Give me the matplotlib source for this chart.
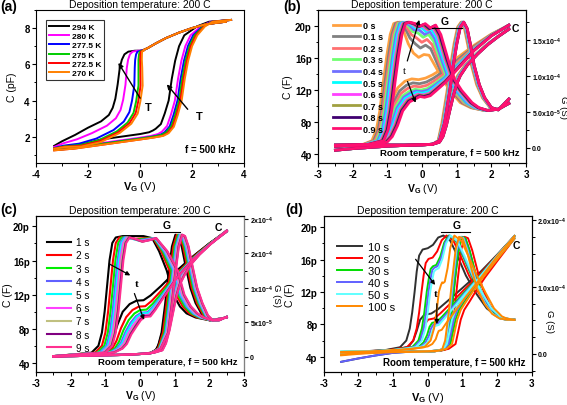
import numpy as np
import matplotlib
matplotlib.use('Agg')
import matplotlib.pyplot as plt
from matplotlib.ticker import AutoMinorLocator

plt.rcParams['font.family'] = ['Liberation Sans', 'DejaVu Sans']
plt.rcParams['font.weight'] = 'bold'
plt.rcParams['mathtext.fontset'] = 'custom'
plt.rcParams['mathtext.rm'] = 'Liberation Sans:bold'
plt.rcParams['mathtext.bf'] = 'Liberation Sans:bold'
plt.rcParams['mathtext.it'] = 'Liberation Sans:bold'
plt.rcParams['axes.unicode_minus'] = False

# ---------------- (a) C-V vs temperature ----------------
a_labels = ['294 K', '280 K', '277.5 K', '275 K', '272.5 K', '270 K']
a_colors = ['#000000', '#ff00ff', '#0000ff', '#00cc00', '#ff0000', '#ff8000']
# forward sweep (base = 270 K)
a_fwd_x = [-3.3, -2.5, -2.0, -1.5, -1.0, -0.5, 0.0, 0.5, 0.9, 1.1, 1.3, 1.45, 1.6, 1.72, 1.85, 2.0, 2.2, 2.5, 2.8, 3.5]
a_fwd_y = [1.25, 1.35, 1.45, 1.55, 1.65, 1.75, 1.85, 1.95, 2.05, 2.2, 2.55, 3.2, 4.0, 5.2, 6.2, 7.0, 7.6, 8.1, 8.35, 8.45]
a_fwd_move = [0, 0, 0, 0, 0, 0, 0, 0.3, 0.8, 1, 1, 1, 1, 1, 1, 1, 1, 0.6, 0.3, 0]
a_fwd_lmask = [0.3, 0.5, 0.7, 1, 1, 1, 1, 1, 1, 0.8, 0.5, 0.3, 0, 0, 0, 0, 0, 0, 0, 0]
a_fwd_shift = [-0.5, -0.26, -0.16, -0.1, -0.05, 0.0]
a_fwd_lift = [0.3, 0.1, 0.05, 0.05, 0.0, 0.0]
# reverse sweep (base = 294 K)
a_rev_x = [3.3, 3.0, 2.5, 2.0, 1.5, 1.0, 0.6, 0.3, 0.15, 0.0, -0.2, -0.45, -0.6, -0.7, -0.78, -0.86, -0.95, -1.05, -1.2, -1.5, -2.0, -2.5, -3.0, -3.3]
a_rev_y = [8.35, 8.3, 8.2, 8.0, 7.75, 7.45, 7.15, 6.9, 6.8, 6.75, 6.75, 6.7, 6.55, 6.25, 5.8, 4.9, 4.1, 3.6, 3.2, 2.85, 2.5, 2.1, 1.75, 1.5]
a_rev_move = [0, 0, 0, 0, 0, 0, 0, 0, 0, 0.15, 0.35, 0.55, 0.7, 0.8, 0.9, 1, 1, 1, 0.9, 0.75, 0.5, 0.25, 0.1, 0]
a_rev_lmask = [0, 0, 0, 0, 0, 0, 0, 0, 0, 0, 0, 0, 0, 0, 0, 0.1, 0.2, 0.4, 0.6, 0.8, 1, 0.8, 0.4, 0.2]
a_rev_shift = [0.0, 0.3, 0.64, 0.8, 0.88, 0.96]
a_rev_lift = [0.0, -0.3, -0.6, -0.7, -0.75, -0.8]

# ---------------- (b) 0 - 0.9 s ----------------
b_labels = ['0 s', '0.1 s', '0.2 s', '0.3 s', '0.4 s', '0.5 s', '0.6 s', '0.7 s', '0.8 s', '0.9 s']
b_colors = ['#ffa040', '#808080', '#ff7070', '#70ff70', '#7070ff', '#00ffff', '#ff40ff', '#a0a040', '#400070', '#ff1070']
b_shift = [0, 0.05, 0.09, 0.13, 0.17, 0.21, 0.25, 0.28, 0.31, 0.34]
b_fwd_shift = [-0.08, -0.06, -0.05, -0.04, -0.03, -0.02, -0.01, 0.0, 0.0, 0.0]
# C forward (pF)
b_cf_x = [-2.5, -2.0, -1.5, -1.0, -0.5, 0.0, 0.3, 0.5, 0.6, 0.7, 0.8, 0.9, 1.0, 1.1, 1.3, 1.6, 1.9, 2.2, 2.5]
b_cf_y = [4.5, 4.7, 4.85, 5.0, 5.1, 5.15, 5.25, 5.5, 6.2, 7.6, 9.5, 11.3, 12.8, 13.8, 15.1, 16.5, 17.7, 18.7, 19.6]
b_cf_move = [0, 0, 0, 0, 0, 0, 0.3, 0.7, 1, 1, 1, 1, 1, 1, 0.8, 0.6, 0.4, 0.2, 0]
# C reverse (pF)
b_cr_x = [2.5, 2.0, 1.5, 1.0, 0.6, 0.3, 0.1, -0.1, -0.3, -0.5, -0.7, -0.9, -1.05, -1.2, -1.35, -1.6, -2.0, -2.5]
b_cr_y = [20.1, 19.0, 17.6, 16.0, 14.7, 13.9, 13.5, 13.3, 13.4, 13.1, 12.3, 10.5, 8.0, 6.2, 5.5, 5.2, 5.1, 5.0]
b_cr_move = [0, 0, 0, 0.1, 0.2, 0.3, 0.4, 0.5, 0.7, 0.9, 1, 1, 1, 1, 1, 0.6, 0.2, 0]
b_cr_lmask = [0, 0.1, 0.3, 0.6, 0.8, 0.9, 1, 1, 1, 1, 0.8, 0.5, 0.2, 0, 0, 0, 0, 0]
b_cr_lift = [0, -0.5, -0.9, -1.3, -1.5, -1.7, -1.9, -2.0, -2.1, -2.2]
# G forward (1e-4 S)
b_gf_x = [-2.5, -1.5, -0.5, 0.3, 0.5, 0.65, 0.8, 0.9, 1.0, 1.1, 1.2, 1.3, 1.4, 1.5, 1.65, 1.8, 2.0, 2.2, 2.5]
b_gf_y = [0.03, 0.04, 0.04, 0.05, 0.1, 0.35, 0.8, 1.15, 1.45, 1.68, 1.75, 1.66, 1.42, 1.15, 0.88, 0.7, 0.56, 0.53, 0.68]
b_gf_move = [0, 0, 0, 0, 0.5, 1, 1, 1, 1, 1, 1, 1, 1, 1, 1, 0.8, 0.5, 0.2, 0]
# G reverse (1e-4 S)
b_gr_x = [2.5, 2.2, 1.8, 1.4, 1.1, 0.8, 0.6, 0.4, 0.2, 0.05, -0.1, -0.25, -0.4, -0.55, -0.7, -0.82, -0.92, -1.02, -1.12, -1.22, -1.32, -1.45, -1.7, -2.5]
b_gr_y = [0.62, 0.54, 0.52, 0.56, 0.63, 0.8, 0.95, 1.12, 1.29, 1.3, 1.26, 1.32, 1.45, 1.65, 1.75, 1.73, 1.58, 1.28, 0.92, 0.52, 0.25, 0.1, 0.05, 0.04]
b_gr_move = [0, 0, 0.3, 0.7, 1, 1, 1, 1, 1, 1, 1, 1, 1, 1, 1, 1, 1, 1, 1, 1, 1, 1, 0.5, 0]
b_gr_lmask = [0, 0, 0, 0, 0, 0, 0, 0.3, 0.7, 1, 1, 1, 0.6, 0.2, 0, 0, 0, 0, 0, 0, 0, 0, 0, 0]
b_gr_lift = [0, 0.13, 0.21, 0.28, 0.32, 0.36, 0.38, 0.39, 0.40, 0.41]

# ---------------- (c) 1 - 9 s ----------------
c_labels = ['1 s', '2 s', '3 s', '4 s', '5 s', '6 s', '7 s', '8 s', '9 s']
c_colors = ['#000000', '#ff0000', '#00ee00', '#6060ff', '#00ffff', '#ff40ff', '#c0c080', '#800080', '#ff3090']
c_shift = [0, 0.1, 0.17, 0.23, 0.27, 0.31, 0.35, 0.38, 0.4]
c_fwd_shift = [0, 0.04, 0.08, 0.11, 0.13, 0.15, 0.17, 0.19, 0.2]
c_cf_x = [-2.5, -1.5, -0.5, 0.0, 0.3, 0.45, 0.55, 0.65, 0.75, 0.85, 0.95, 1.1, 1.3, 1.6, 2.0, 2.5]
c_cf_y = [4.75, 4.85, 4.95, 5.05, 5.2, 5.5, 6.3, 7.8, 9.8, 11.8, 13.2, 14.4, 15.5, 16.7, 18.0, 19.4]
c_cf_move = [0, 0, 0, 0, 0.5, 1, 1, 1, 1, 1, 1, 1, 0.8, 0.6, 0.3, 0]
c_cr_x = [2.5, 2.0, 1.5, 1.0, 0.6, 0.3, 0.1, -0.1, -0.3, -0.5, -0.65, -0.78, -0.9, -1.05, -1.3, -1.8, -2.5]
c_cr_y = [19.5, 18.0, 16.4, 14.6, 13.0, 11.9, 11.35, 11.3, 10.9, 10.0, 8.5, 6.8, 5.7, 5.25, 5.05, 4.9, 4.75]
c_cr_move = [0, 0, 0, 0.1, 0.2, 0.35, 0.5, 0.6, 0.8, 1, 1, 1, 1, 0.8, 0.5, 0.2, 0]
c_cr_lmask = [0, 0.1, 0.2, 0.4, 0.7, 0.9, 1, 1, 1, 0.9, 0.6, 0.3, 0, 0, 0, 0, 0]
c_cr_lift = [0, -0.7, -1.1, -1.4, -1.5, -1.7, -1.8, -1.8, -1.9]
c_gf_x = [-2.5, -1.5, -0.5, 0.3, 0.5, 0.62, 0.72, 0.82, 0.92, 1.02, 1.1, 1.2, 1.3, 1.45, 1.6, 1.8, 2.0, 2.25, 2.5]
c_gf_y = [0.01, 0.02, 0.03, 0.05, 0.12, 0.35, 0.75, 1.2, 1.6, 1.77, 1.75, 1.6, 1.35, 1.0, 0.78, 0.6, 0.53, 0.53, 0.58]
c_gf_move = [0, 0, 0, 0, 0.5, 1, 1, 1, 1, 1, 1, 1, 1, 1, 1, 0.8, 0.5, 0.2, 0]
c_gr_x = [2.5, 2.0, 1.6, 1.34, 1.15, 0.96, 0.77, 0.55, 0.35, 0.1, -0.2, -0.5, -0.7, -0.8, -0.88, -0.95, -1.02, -1.1, -1.2, -1.4, -1.8, -2.5]
c_gr_y = [0.57, 0.53, 0.57, 0.63, 0.73, 0.9, 1.25, 1.53, 1.72, 1.75, 1.75, 1.75, 1.73, 1.65, 1.4, 1.03, 0.66, 0.35, 0.16, 0.06, 0.04, 0.01]
c_gr_move = [0, 0.2, 0.6, 0.8, 0.8, 0.8, 0.8, 0.6, 0.3, 0.5, 0.7, 0.9, 1, 1, 1, 1, 1, 1, 1, 1, 0.4, 0]
c_gr_lmask = [0, 0, 0, 0, 0, 0, 0, 0, 0, 0.7, 1, 0.5, 0, 0, 0, 0, 0, 0, 0, 0, 0, 0]
c_gr_lift = [0, -0.04, -0.05, -0.06, -0.07, -0.07, -0.08, -0.08, -0.08]

# ---------------- (d) 10 - 100 s ----------------
d_labels = ['10 s', '20 s', '30 s', '40 s', '50 s', '100 s']
d_colors = ['#303030', '#ff0000', '#00dd00', '#6060ff', '#60ffff', '#ff8800']
d_shift = [0, 0.2, 0.35, 0.4, 0.45, 0.7]
d_c_shift = [0, 0.15, 0.3, 0.35, 0.4, 0.55]
d_fwd_shift = [0, 0.08, 0.0, -0.04, -0.06, -0.08]
d_cf_shift = [0, 0.25, 0.1, 0.05, 0.0, 0.15]
d_cf_x = [-2.5, -2.0, -1.5, -1.0, -0.5, 0.0, 0.3, 0.45, 0.55, 0.62, 0.7, 0.8, 0.95, 1.2, 1.5, 1.9, 2.2, 2.5]
d_cf_y = [4.3, 4.45, 4.55, 4.6, 4.65, 4.7, 4.8, 5.0, 5.6, 7.0, 8.6, 9.8, 10.8, 12.2, 13.8, 15.8, 17.2, 18.6]
d_cf_move = [0, 0, 0, 0, 0, 0, 0.3, 0.6, 1, 1, 1, 1, 1, 0.8, 0.6, 0.4, 0.2, 0]
d_cf_lmask = [1, 0.7, 0.4, 0.1, 0, 0, 0, 0, 0, 0, 0, 0, 0, 0, 0, 0, 0, 0]
d_cf_lift = [-0.9, 0, 0.1, -0.9, 0.4, -0.1]
d_cr_x = [2.5, 2.0, 1.5, 1.0, 0.6, 0.3, 0.1, -0.1, -0.22, -0.32, -0.42, -0.55, -0.8, -1.2, -1.8, -2.5]
d_cr_y = [18.9, 16.6, 14.4, 12.5, 11.0, 9.9, 9.35, 9.2, 8.6, 7.2, 6.0, 5.3, 5.0, 4.85, 4.6, 4.3]
d_cr_move = [0, 0, 0.1, 0.2, 0.3, 0.4, 0.55, 0.75, 0.9, 1, 1, 1, 0.7, 0.4, 0.15, 0]
d_cr_lmask = [0, 0.1, 0.25, 0.5, 0.75, 0.9, 1, 1, 0.9, 0.5, 0.2, 0, 0, 0, 0, 0]
d_cr_lift = [0, -0.6, -1.0, -1.2, -1.4, -2.0]
d_gf_x = [-2.5, -1.5, -0.5, 0.2, 0.45, 0.58, 0.68, 0.78, 0.88, 0.98, 1.08, 1.2, 1.35, 1.5, 1.7, 1.9, 2.1, 2.3, 2.5]
d_gf_y = [0.02, 0.03, 0.03, 0.04, 0.06, 0.2, 0.6, 1.1, 1.55, 1.75, 1.73, 1.55, 1.25, 0.98, 0.75, 0.6, 0.53, 0.51, 0.51]
d_gf_move = [0, 0, 0, 0, 0.5, 1, 1, 1, 1, 1, 1, 1, 1, 1, 0.8, 0.6, 0.4, 0.2, 0]
d_gr_x = [2.5, 2.2, 2.0, 1.7, 1.4, 1.1, 0.85, 0.65, 0.45, 0.3, 0.15, 0.0, -0.15, -0.25, -0.32, -0.38, -0.45, -0.52, -0.62, -0.8, -1.2, -1.8, -2.5]
d_gr_y = [0.51, 0.53, 0.56, 0.68, 0.9, 1.17, 1.47, 1.69, 1.77, 1.74, 1.63, 1.58, 1.56, 1.47, 1.23, 0.93, 0.62, 0.38, 0.2, 0.1, 0.06, 0.04, 0.03]
d_gr_move = [0, 0.1, 0.2, 0.3, 0.4, 0.45, 0.45, 0.45, 0.45, 0.5, 0.6, 0.7, 0.85, 0.95, 1, 1, 1, 1, 1, 1, 0.6, 0.3, 0]
d_gr_lmask = [0, 0, 0, 0, 0, 0, 0, 0, 0, 0.3, 0.7, 1, 1, 0.8, 0.4, 0, 0, 0, 0, 0, 0, 0, 0]
d_gr_lift = [0, -0.14, -0.25, -0.27, -0.3, -0.5]

title = 'Deposition temperature: 200 C'
c_ticks = [4, 8, 12, 16, 20]


def warp(bx, by, move, shift, lmask=None, lift=0.0):
    x = np.array(bx) + shift * np.array(move)
    y = np.array(by, dtype=float)
    if lmask is not None:
        y = y + lift * np.array(lmask)
    return x, y


def style(ax):
    ax.tick_params(direction='out', length=3, width=0.8, labelsize=7, pad=1.5)
    ax.tick_params(which='minor', direction='out', length=1.8, width=0.7)
    for s in ax.spines.values():
        s.set_linewidth(0.8)


fig = plt.figure(figsize=(5.67, 4.06), dpi=100)

# ---------- panel (a) ----------
ax = fig.add_axes([0.0635, 0.596, 0.367, 0.377])
for i in range(len(a_labels)):
    x, y = warp(a_fwd_x, a_fwd_y, a_fwd_move, a_fwd_shift[i], a_fwd_lmask, a_fwd_lift[i])
    ax.plot(x, y, color=a_colors[i], lw=1.4, label=a_labels[i])
    x, y = warp(a_rev_x, a_rev_y, a_rev_move, a_rev_shift[i], a_rev_lmask, a_rev_lift[i])
    ax.plot(x, y, color=a_colors[i], lw=1.4)
ax.set_xlim(-4, 4)
ax.set_ylim(0.55, 9.0)
ax.set_xticks([-4, -2, 0, 2, 4])
ax.set_yticks([2, 4, 6, 8])
ax.xaxis.set_minor_locator(AutoMinorLocator(2))
ax.yaxis.set_minor_locator(AutoMinorLocator(2))
style(ax)
ax.set_ylabel('C (pF)', fontsize=7.5)
ax.yaxis.set_label_coords(-0.09, 0.5)
ax.set_xlabel(r'$\mathbf{V_G}$ (V)', fontsize=8)
ax.xaxis.set_label_coords(0.5, -0.105)
ax.set_title(title, fontsize=7.5, fontweight='normal', pad=2)
ax.legend(loc='upper left', bbox_to_anchor=(0.03, 0.96), fontsize=6.0, frameon=True,
          fancybox=False, edgecolor='k', handlelength=2.4, labelspacing=0.18,
          borderpad=0.3, handletextpad=0.4).get_frame().set_linewidth(0.8)
ax.annotate('', xy=(-0.89, 6.21), xytext=(0.06, 4.0),
            arrowprops=dict(arrowstyle='-|>', color='k', lw=1, mutation_scale=7))
ax.text(0.3, 3.65, 'T', fontsize=8, ha='center', va='center')
ax.annotate('', xy=(0.96, 5.01), xytext=(1.9, 3.4),
            arrowprops=dict(arrowstyle='-|>', color='k', lw=1, mutation_scale=7))
ax.text(2.26, 3.13, 'T', fontsize=8, ha='center', va='center')
ax.text(0.96, 0.06, 'f = 500 kHz', transform=ax.transAxes, fontsize=7, ha='right', va='bottom')


def cg_panel(rect, labels, colors, lw, fwd_c, rev_c, fwd_g, rev_g, cl, gl):
    ax = fig.add_axes(rect)
    ax2 = ax.twinx()
    ax.set_xlim(-3, 3)
    ax.set_ylim(cl[0] * 1e-12, cl[1] * 1e-12)
    ax2.set_ylim(gl[0] * 1e-4, gl[1] * 1e-4)
    handles = []
    for i in range(len(labels)):
        x, y = fwd_c(i)
        h, = ax.plot(x, y * 1e-12, color=colors[i], lw=lw, label=labels[i])
        handles.append(h)
        x, y = rev_c(i)
        ax.plot(x, y * 1e-12, color=colors[i], lw=lw)
        x, y = fwd_g(i)
        ax.plot(x, y * 1e-4, color=colors[i], lw=lw, transform=ax2.transData)
        x, y = rev_g(i)
        ax.plot(x, y * 1e-4, color=colors[i], lw=lw, transform=ax2.transData)
    ax.set_xticks([-3, -2, -1, 0, 1, 2, 3])
    ax.xaxis.set_minor_locator(AutoMinorLocator(2))
    ax.set_yticks([v * 1e-12 for v in c_ticks])
    ax.set_yticklabels(['%dp' % v for v in c_ticks])
    ax.yaxis.set_minor_locator(AutoMinorLocator(2))
    ax2.yaxis.set_minor_locator(AutoMinorLocator(2))
    style(ax)
    style(ax2)
    ax2.tick_params(labelsize=5.0, pad=1)
    ax.set_ylabel('C (F)', fontsize=7.5, va='center')
    ax2.set_ylabel('G (S)', fontsize=6.8, rotation=270, va='center')
    ax.set_title(title, fontsize=7.5, fontweight='normal', pad=2)
    return ax, ax2, handles


# ---------- panel (b) ----------
ax, ax2, hs = cg_panel([0.561, 0.596, 0.367, 0.377], b_labels, b_colors, 2.0,
                       lambda i: warp(b_cf_x, b_cf_y, b_cf_move, b_fwd_shift[i]),
                       lambda i: warp(b_cr_x, b_cr_y, b_cr_move, b_shift[i], b_cr_lmask, b_cr_lift[i]),
                       lambda i: warp(b_gf_x, b_gf_y, b_gf_move, b_fwd_shift[i]),
                       lambda i: warp(b_gr_x, b_gr_y, b_gr_move, b_shift[i], b_gr_lmask, b_gr_lift[i]),
                       (2.9, 22.0), (-0.21, 1.92))
ax2.set_yticks([0, 0.5e-4, 1e-4, 1.5e-4])
ax2.set_yticklabels(['0.0', r'5.0x10$^{-5}$', r'1.0x10$^{-4}$', r'1.5x10$^{-4}$'])
ax.yaxis.set_label_coords(-0.145, 0.5)
ax2.yaxis.set_label_coords(1.18, 0.37)
ax.set_xlabel(r'$\mathbf{V_G}$ (V)', fontsize=7.5)
ax.xaxis.set_label_coords(0.5, -0.12)
ax.legend(handles=hs, loc='upper left', bbox_to_anchor=(0.04, 0.97), frameon=False, fontsize=6.5,
          handlelength=3.0, labelspacing=0.28, handletextpad=0.4, borderpad=0.2)
ax.annotate('', xy=(-0.06, 21.1e-12), xytext=(-0.45, 15.3e-12),
            arrowprops=dict(arrowstyle='-|>', color='k', lw=0.9, mutation_scale=6))
ax.annotate('', xy=(-0.16, 10.1e-12), xytext=(-0.45, 13.4e-12),
            arrowprops=dict(arrowstyle='-|>', color='k', lw=0.9, mutation_scale=6))
ax.text(-0.52, 14.46e-12, 't', fontsize=8, fontweight='normal', family='Liberation Serif',
        ha='center', va='center')
ax.plot([0.28, 1.14], [19.8e-12, 19.8e-12], color='k', lw=0.8)
ax.text(0.66, 20.6e-12, 'G', fontsize=7.5, ha='center', va='center')
ax.text(2.68, 19.75e-12, 'C', fontsize=7.5, ha='center', va='center')
ax.text(0.97, 0.04, 'Room temperature, f = 500 kHz', transform=ax.transAxes, fontsize=6.8,
        ha='right', va='bottom')

# ---------- panel (c) ----------
ax, ax2, hs = cg_panel([0.0635, 0.0813, 0.367, 0.384], c_labels, c_colors, 1.5,
                       lambda i: warp(c_cf_x, c_cf_y, c_cf_move, c_fwd_shift[i]),
                       lambda i: warp(c_cr_x, c_cr_y, c_cr_move, c_shift[i], c_cr_lmask, c_cr_lift[i]),
                       lambda i: warp(c_gf_x, c_gf_y, c_gf_move, c_fwd_shift[i]),
                       lambda i: warp(c_gr_x, c_gr_y, c_gr_move, c_shift[i], c_gr_lmask, c_gr_lift[i]),
                       (2.95, 21.2), (-0.22, 2.04))
ax2.set_yticks([0, 0.5e-4, 1e-4, 1.5e-4, 2e-4])
ax2.set_yticklabels(['0', r'5x10$^{-5}$', r'1x10$^{-4}$', r'2x10$^{-4}$', r'2x10$^{-4}$'])
ax2.spines['right'].set_color('#808080')
ax.yaxis.set_label_coords(-0.135, 0.5)
ax2.yaxis.set_label_coords(1.155, 0.5)
ax.set_xlabel(r'$\mathbf{V_G}$ (V)', fontsize=7.5)
ax.xaxis.set_label_coords(0.5, -0.1)
leg = ax.legend(handles=hs, loc='upper left', bbox_to_anchor=(0.02, 0.91), frameon=False, fontsize=7.2,
                handlelength=2.4, labelspacing=0.32, handletextpad=0.5, borderpad=0.2)
for t in leg.get_texts():
    t.set_fontweight('normal')
ax.annotate('', xy=(-0.21, 14.1e-12), xytext=(-0.96, 15.76e-12),
            arrowprops=dict(arrowstyle='-|>', color='k', lw=0.9, mutation_scale=6))
ax.annotate('', xy=(0.14, 8.75e-12), xytext=(-0.19, 12.44e-12),
            arrowprops=dict(arrowstyle='-|>', color='k', lw=0.9, mutation_scale=6))
ax.text(-0.1, 13.3e-12, 't', fontsize=8, family='Liberation Serif', ha='center', va='center')
ax.plot([0.40, 1.15], [19.3e-12, 19.3e-12], color='k', lw=0.8)
ax.text(0.78, 20.2e-12, 'G', fontsize=7.5, ha='center', va='center')
ax.text(2.25, 19.9e-12, 'C', fontsize=7.5, ha='center', va='center')
ax.text(0.97, 0.04, 'Room temperature, f = 500 kHz', transform=ax.transAxes, fontsize=6.8,
        ha='right', va='bottom')

# ---------- panel (d) ----------
ax, ax2, hs = cg_panel([0.571, 0.0813, 0.367, 0.384], d_labels, d_colors, 1.4,
                       lambda i: warp(d_cf_x, d_cf_y, d_cf_move, d_cf_shift[i], d_cf_lmask, d_cf_lift[i]),
                       lambda i: warp(d_cr_x, d_cr_y, d_cr_move, d_c_shift[i], d_cr_lmask, d_cr_lift[i]),
                       lambda i: warp(d_gf_x, d_gf_y, d_gf_move, d_fwd_shift[i]),
                       lambda i: warp(d_gr_x, d_gr_y, d_gr_move, d_shift[i], d_gr_lmask, d_gr_lift[i]),
                       (2.15, 21.35), (-0.27, 2.06))
ax2.set_yticks([0, 1e-4, 2e-4])
ax2.set_yticklabels(['0.0', r'1.0x10$^{-4}$', r'2.0x10$^{-4}$'])
ax2.yaxis.set_minor_locator(AutoMinorLocator(4))
ax.yaxis.set_label_coords(-0.16, 0.5)
ax2.yaxis.set_label_coords(1.085, 0.33)
ax.set_xlabel(r'$\mathbf{V_G}$ (V)', fontsize=8)
ax.xaxis.set_label_coords(0.5, -0.118)
leg = ax.legend(handles=hs, loc='upper left', bbox_to_anchor=(0.025, 0.885), frameon=False, fontsize=8,
                handlelength=2.3, labelspacing=0.18, handletextpad=0.5, borderpad=0.2)
for t in leg.get_texts():
    t.set_fontweight('normal')
ax.annotate('', xy=(0.26, 12.6e-12), xytext=(-0.40, 16.3e-12),
            arrowprops=dict(arrowstyle='-|>', color='k', lw=0.9, mutation_scale=6))
ax.annotate('', xy=(0.26, 7.7e-12), xytext=(0.26, 10.9e-12),
            arrowprops=dict(arrowstyle='-|>', color='k', lw=0.9, mutation_scale=6))
ax.text(0.22, 11.8e-12, 't', fontsize=8, family='Liberation Serif', ha='center', va='center')
ax.plot([0.39, 1.21], [19.4e-12, 19.4e-12], color='k', lw=0.8)
ax.text(0.83, 20.2e-12, 'G', fontsize=7.5, ha='center', va='center')
ax.text(2.54, 17.75e-12, 'C', fontsize=7.5, ha='center', va='center')
ax.text(0.97, 0.03, 'Room temperature, f = 500 kHz', transform=ax.transAxes, fontsize=7,
        ha='right', va='bottom')

# panel letters
fig.text(0.0, 1.0, '(a)', fontsize=10, ha='left', va='top')
fig.text(0.499, 1.0, '(b)', fontsize=10, ha='left', va='top')
fig.text(0.0, 0.5, '(c)', fontsize=10, ha='left', va='top')
fig.text(0.503, 0.5, '(d)', fontsize=10, ha='left', va='top')

fig.savefig('out.png', dpi=100)
